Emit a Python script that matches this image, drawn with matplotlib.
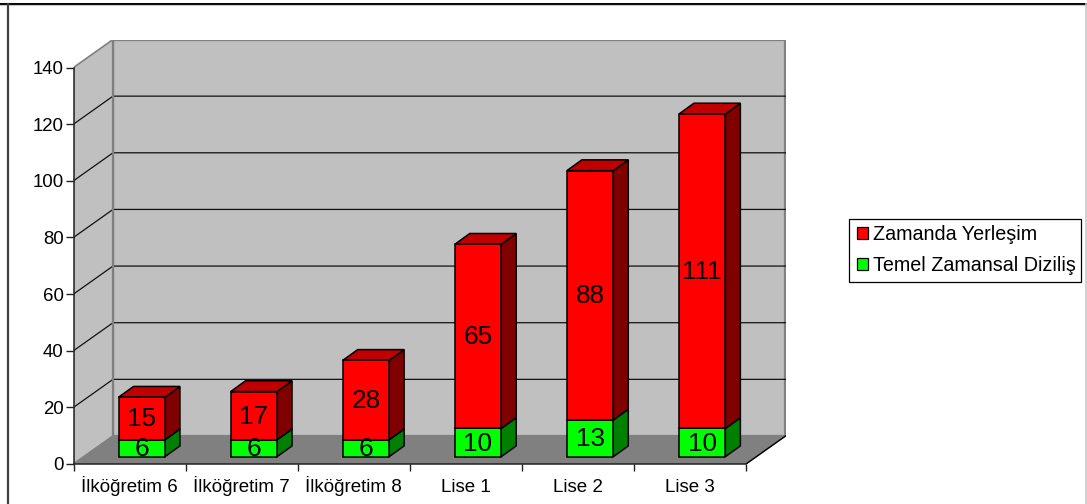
import matplotlib
matplotlib.use("Agg")
import matplotlib.pyplot as plt
from matplotlib.lines import Line2D
from matplotlib.patches import Patch, Polygon, Rectangle

plt.rcParams["font.family"] = ["Liberation Sans", "DejaVu Sans"]

# Chart values
categories = ["İlköğretim 6", "İlköğretim 7", "İlköğretim 8", "Lise 1", "Lise 2", "Lise 3"]
temel_zamansal = [6, 6, 6, 10, 13, 10]
zamanda_yerlesim = [15, 17, 28, 65, 88, 111]
y_ticks = [0, 20, 40, 60, 80, 100, 120, 140]

W, H = 1087, 504
fig = plt.figure(figsize=(W / 100, H / 100), dpi=100, facecolor="white")

# Front plane of the oblique box, in pixels
x0_px, x1_px = 73.5, 746.0
y0_px, y140_px = 464.0, 67.5
dx_px, dy_px = 39.5, 28.0
unit_x = (x1_px - x0_px) / len(categories)
unit_y = (y0_px - y140_px) / 140

left = x0_px
right = x1_px + dx_px
top = y140_px - dy_px
ax = fig.add_axes([left / W, 1 - y0_px / H, (right - left) / W, (y0_px - top) / H])
ax.set_xlim(0, (right - left) / unit_x)
ax.set_ylim(0, (y0_px - top) / unit_y)
ax.patch.set_visible(False)

# Depth of the box expressed in data units
DX = dx_px / unit_x
DY = dy_px / unit_y
ymax = y_ticks[-1]
n = len(categories)

WALL = "#c0c0c0"
FLOOR = "#808080"
EDGE = "#808080"

ax.add_patch(Polygon([(DX, DY), (n + DX, DY), (n + DX, ymax + DY), (DX, ymax + DY)],
                     fc=WALL, ec=EDGE, lw=1.6, zorder=1))
ax.add_patch(Polygon([(0, 0), (DX, DY), (DX, ymax + DY), (0, ymax)],
                     fc=WALL, ec=EDGE, lw=1.2, zorder=1))
ax.add_patch(Polygon([(0, 0), (n, 0), (n + DX, DY), (DX, DY)],
                     fc=FLOOR, ec=EDGE, lw=1.0, zorder=1))

# Gridlines run along the left wall and across the back wall
for v in y_ticks[1:-1]:
    ax.plot([0, DX, n + DX], [v, v + DY, v + DY], color="#111111", lw=0.9, zorder=2)
ax.plot([n, n + DX], [0, DY], color="black", lw=1.0, zorder=2)
ax.plot([DX, DX], [DY, ymax + DY], color=EDGE, lw=1.6, zorder=2)

# Bar geometry
bar_w = 46.4 / unit_x
bar_dx = 15.0 / unit_x
bar_dy = 10.8 / unit_y
base_y = 7.3 / unit_y
center_shift = 12.2 / unit_x
label_lift = 1.5 / unit_y


def draw_segment(xc, y_low, y_high, front, top_col, side, label, z):
    xl, xr = xc - bar_w / 2, xc + bar_w / 2
    style = dict(ec="black", lw=1.1, joinstyle="miter", zorder=z)
    ax.add_patch(Polygon([(xr, y_low), (xr + bar_dx, y_low + bar_dy),
                          (xr + bar_dx, y_high + bar_dy), (xr, y_high)], fc=side, **style))
    ax.add_patch(Polygon([(xl, y_high), (xr, y_high), (xr + bar_dx, y_high + bar_dy),
                          (xl + bar_dx, y_high + bar_dy)], fc=top_col, **style))
    ax.add_patch(Polygon([(xl, y_low), (xr, y_low), (xr, y_high), (xl, y_high)], fc=front, **style))
    ax.text(xc, (y_low + y_high) / 2 + label_lift, str(label), ha="center",
            va="center_baseline", fontsize=18.8, color="black", zorder=z + 5)


for i in range(n):
    xc = i + 0.5 + center_shift
    g = temel_zamansal[i]
    r = zamanda_yerlesim[i]
    z = 5 + i * 10
    draw_segment(xc, base_y, base_y + g, "#00ff00", "#00c000", "#008000", g, z)
    draw_segment(xc, base_y + g, base_y + g + r, "#ff0000", "#c00000", "#800000", r, z + 1)

# Axis lines, ticks and tick labels
for name in ("top", "right"):
    ax.spines[name].set_visible(False)
ax.spines["left"].set_bounds(0, ymax)
ax.spines["bottom"].set_bounds(0, n)
ax.spines["left"].set_color("#222222")
ax.spines["bottom"].set_color("#222222")
ax.spines["left"].set_linewidth(1.1)
ax.spines["bottom"].set_linewidth(1.1)
ax.set_yticks(y_ticks)
ax.set_xticks(range(n + 1))
ax.set_xticklabels([])
ax.set_xticks([i + 0.5 for i in range(n)], minor=True)
ax.set_xticklabels(categories, minor=True, va="baseline")
ax.tick_params(axis="y", length=5.5, width=1.0, labelsize=13.4, pad=1.5, color="#222222")
ax.tick_params(axis="x", which="major", length=5, width=1.0, color="#222222")
ax.tick_params(axis="x", which="minor", length=0, labelsize=13.5, pad=20.2)

# Legend box and its entries
fig.add_artist(Rectangle((849 / W, 1 - 282 / H), 232 / W, 63 / H, transform=fig.transFigure,
                         fc="white", ec="black", lw=0.9))
handles = [Patch(fc="#ff0000", ec="black", lw=0.9, label="Zamanda Yerleşim"),
           Patch(fc="#00ff00", ec="black", lw=0.9, label="Temel Zamansal Diziliş")]
fig.legend(handles=handles, loc="upper left", bbox_to_anchor=(849 / W, 1 - 217 / H),
           fontsize=14.2, frameon=False, borderaxespad=0, borderpad=0.4,
           handlelength=0.58, handleheight=0.58, handletextpad=0.25, labelspacing=0.6)

# Outer frame of the chart area
fig.add_artist(Line2D([0, 1], [1 - 3.6 / H] * 2, color="black", lw=1.4))
fig.add_artist(Line2D([0, 1], [1 - 5 / H] * 2, color="#c8c8c8", lw=0.8))
fig.add_artist(Line2D([8 / W] * 2, [0, 1 - 3.6 / H], color="#404040", lw=1.6))
fig.add_artist(Line2D([1086 / W] * 2, [0, 1 - 3.6 / H], color="#c8c8c8", lw=1.2))

fig.savefig("out.png", dpi=100)
